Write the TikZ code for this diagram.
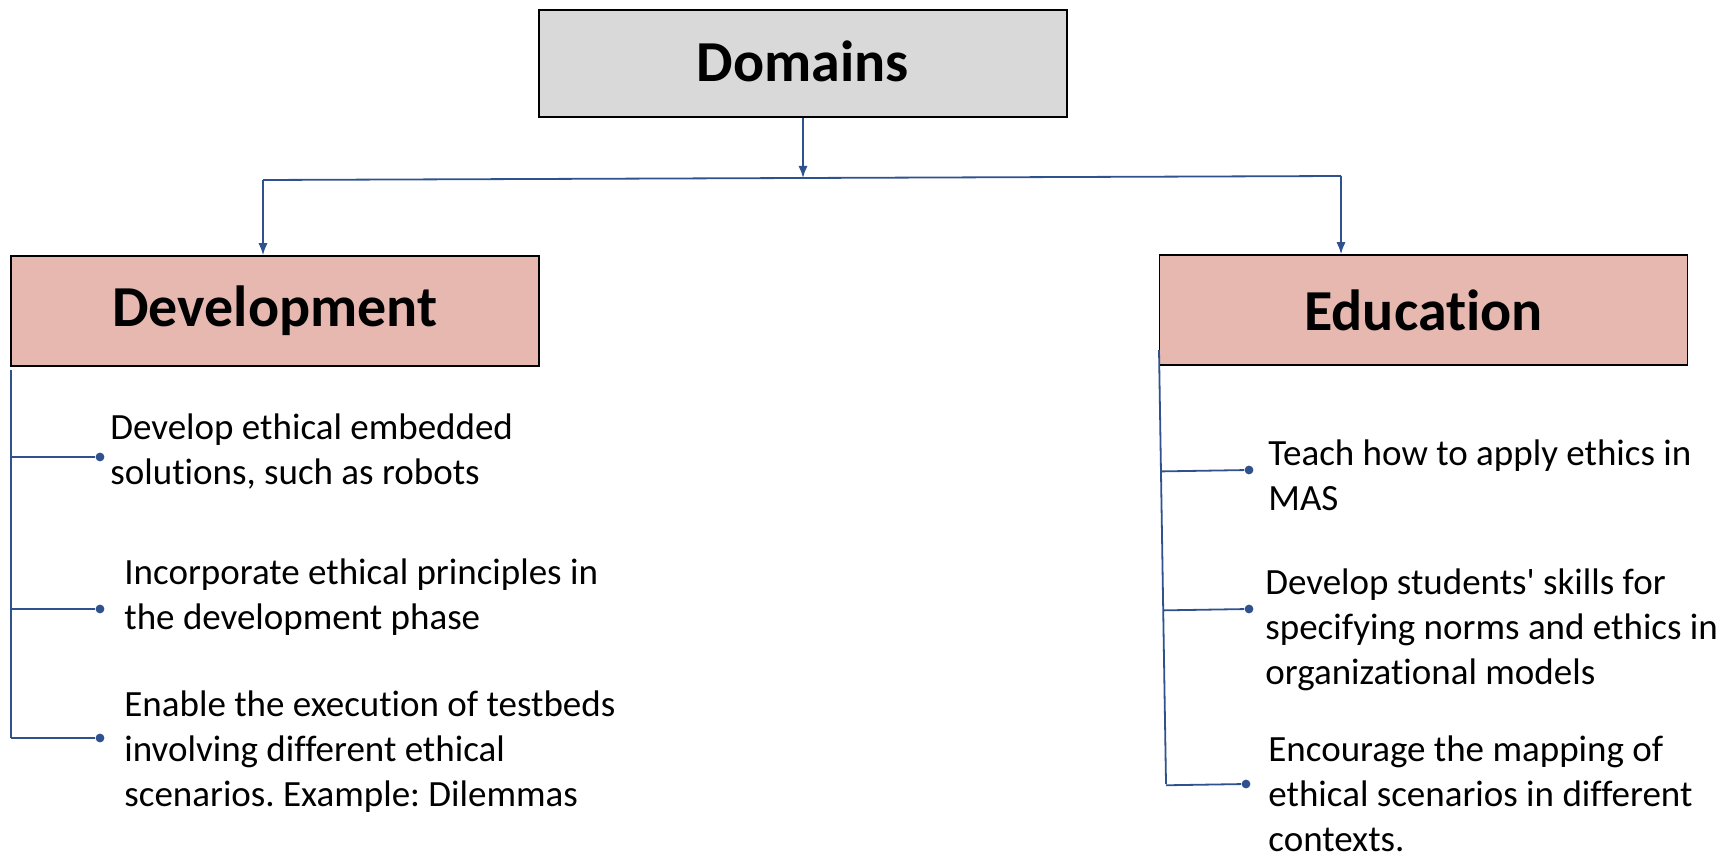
\documentclass[tikz,border=0pt]{standalone}
\usepackage{fontspec}
\setmainfont{Carlito}[Ligatures={NoCommon}]
\newfontfamily\straightfont{Carlito}[Ligatures={NoCommon}]
\usetikzlibrary{arrows.meta,calc}
\definecolor{linkblue}{RGB}{47,82,143}
\definecolor{rootgray}{RGB}{217,217,217}
\definecolor{areapink}{RGB}{230,184,175}
\tikzset{
  rootbox/.style={draw,line width=0.8pt,fill=rootgray,minimum width=264pt,minimum height=53.5pt,
    font=\fontsize{29}{34}\selectfont\bfseries},
  areabox/.style={draw,line width=0.8pt,fill=areapink,minimum width=264pt,minimum height=55pt,
    font=\fontsize{29}{34}\selectfont\bfseries},
  itemtext/.style={anchor=west,align=left,inner sep=0pt,font=\fontsize{18.5}{22.5}\selectfont},
  link/.style={draw=linkblue,line width=0.9pt},
  bulletdot/.style={circle,fill=linkblue,inner sep=0pt,minimum size=4.4pt},
  downarrow/.style={link,-{Latex[length=6pt,width=4.6pt]}},
}
\frenchspacing

\begin{document}
\begin{tikzpicture}[x=0.5pt,y=-0.5pt]
\useasboundingbox (0,0) rectangle (1732,860);
\node[rootbox] (root) at (803,63.5) {\raisebox{2pt}{Domains}};
\node[areabox] (dev) at (275,311) {Development};
\node[areabox] (edu) at (1423.5,310) {Education};
\coordinate (busL) at (263,180);
\coordinate (busM) at (803,178);
\coordinate (busR) at (1341,176);
\draw[link] (busL) -- (busR);
\draw[downarrow] (root.south) -- (busM);
\draw[downarrow] (busL) -- (busL |- dev.north);
\draw[downarrow] (busR) -- (busR |- edu.north);
\coordinate (devtop) at (11,370);
\coordinate (devbottom) at (11,738);
\coordinate (edutop) at (1159,350);
\coordinate (edubottom) at (1166,784);
\draw[link] (devtop) -- (devbottom);
\draw[link] (edutop) -- (edubottom);
\foreach \i/\yd/\xt/\yt/\txt in {
  1/457/110/452/{Develop ethical embedded\\solutions, such as robots},
  2/609/124/597/{Incorporate ethical principles in\\the development phase},
  3/738/124/752/{Enable the execution of testbeds\\involving different ethical\\scenarios. Example: Dilemmas}}
{
  \node[bulletdot] (devdot\i) at (100,\yd) {};
  \node[itemtext] (devitem\i) at (\xt,\yt) {\txt};
  \draw[link] ($(devtop)!(devdot\i)!(devbottom)$) -- (devdot\i);
}
\foreach \i/\xd/\yd/\xt/\yt/\txt in {
  1/1249/470/1268/475/{Teach how to apply ethics in\\MAS},
  2/1249/609/1265/630/{Develop students{\straightfont '} skills for\\specifying norms and ethics in\\organizational models},
  3/1246/784/1268/794/{Encourage the mapping of\\ethical scenarios in different\\contexts.}}
{
  \node[bulletdot] (edudot\i) at (\xd,\yd) {};
  \node[itemtext] (eduitem\i) at (\xt,\yt) {\txt};
  \draw[link] ($(edutop)!(edudot\i)!(edubottom)$) -- (edudot\i);
}
\end{tikzpicture}
\end{document}
